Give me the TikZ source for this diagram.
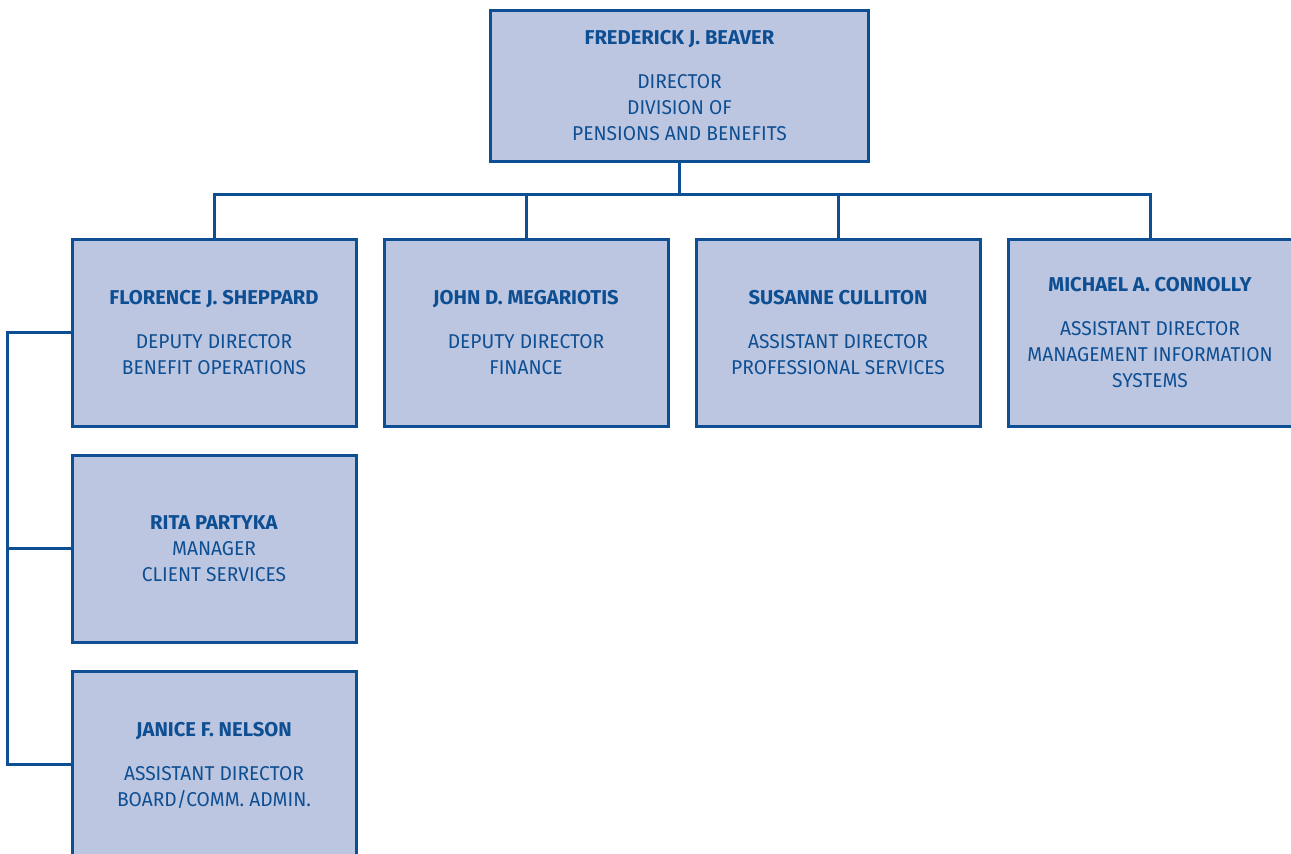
\documentclass[tikz,border=0pt]{standalone}
\usepackage{fontspec}
\setmainfont{Fira Sans}[FakeStretch=0.96, BoldFeatures={FakeStretch=1.01}]
\usetikzlibrary{positioning}

\definecolor{orgblue}{RGB}{14,78,146}
\definecolor{orgfill}{RGB}{188,198,224}

\tikzstyle{person} = [rectangle, minimum width=142pt, minimum height=93.5pt, inner sep=0pt, text centered, align=center, draw=orgblue, line width=1.5pt, fill=orgfill, text=orgblue, font=\fontsize{10}{13}\selectfont]
\tikzstyle{boss} = [person, minimum width=189pt, minimum height=75.5pt]
\tikzstyle{line} = [draw=orgblue, line width=1.5pt]

\begin{document}
\begin{tikzpicture}[node distance = 156pt, auto]
	\useasboundingbox (0,0) rectangle (645.5pt,-427pt);
	\clip (0,0) rectangle (645.5pt,-427pt);
	% Place nodes
	\node [boss] (Beaver) at (339.75pt,-43pt) {\textbf{FREDERICK J. BEAVER}\\[9pt] DIRECTOR\\ DIVISION OF\\ PENSIONS AND BENEFITS};
	\node [person, below of=Beaver, node distance=123.5pt, xshift=-232.75pt] (Sheppard) {\textbf{FLORENCE J. SHEPPARD}\\[9pt] DEPUTY DIRECTOR\\ BENEFIT OPERATIONS};
	\node [person, right of=Sheppard] (Megariotis) {\textbf{JOHN D. MEGARIOTIS}\\[9pt] DEPUTY DIRECTOR\\ FINANCE};
	\node [person, right of=Megariotis] (Culliton) {\textbf{SUSANNE CULLITON}\\[9pt] ASSISTANT DIRECTOR\\ PROFESSIONAL SERVICES};
	\node [person, right of=Culliton] (Connolly) {\textbf{MICHAEL A. CONNOLLY}\\[9pt] ASSISTANT DIRECTOR\\ MANAGEMENT INFORMATION\\ SYSTEMS};
	\node [person, below of=Sheppard, node distance=108pt] (Partyka) {\textbf{RITA PARTYKA}\\ MANAGER\\ CLIENT SERVICES};
	\node [person, below of=Partyka, node distance=108pt] (Nelson) {\textbf{JANICE F. NELSON}\\[9pt] ASSISTANT DIRECTOR\\ BOARD/COMM. ADMIN.};
	% Draw edges
	\draw [line] (Beaver.south) -- ++(0,-16pt) -| (Sheppard.north);
	\draw [line] (Beaver.south) -- ++(0,-16pt) -| (Megariotis.north);
	\draw [line] (Beaver.south) -- ++(0,-16pt) -| (Culliton.north);
	\draw [line] (Beaver.south) -- ++(0,-16pt) -| (Connolly.north);
	\draw [line] (Sheppard.west) -- ++(-31.75pt,0) |- (Partyka.west);
	\draw [line] (Sheppard.west) -- ++(-31.75pt,0) |- (Nelson.west);
\end{tikzpicture}
\end{document}
